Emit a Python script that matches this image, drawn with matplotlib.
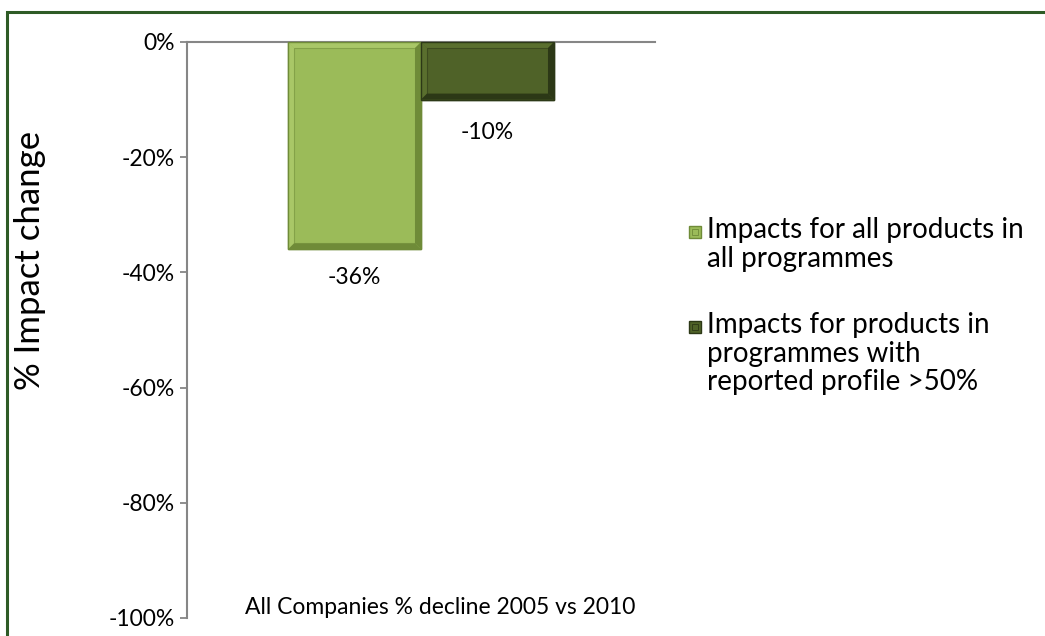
import matplotlib
matplotlib.use("Agg")
import matplotlib.pyplot as plt
from matplotlib.patches import Rectangle, Polygon
from matplotlib.transforms import IdentityTransform, ScaledTranslation
from matplotlib.ticker import FuncFormatter

plt.rcParams['font.family'] = ['Lato', 'DejaVu Sans']

# ── data ─────────────────────────────────────────────
category = "All Companies % decline 2005 vs 2010"
series_names = ["Impacts for all products in\nall programmes",
                "Impacts for products in\nprogrammes with\nreported profile >50%"]
values = [-36, -10]
y_ticks = [0, -20, -40, -60, -80, -100]

# (base, light bevel, dark bevel)
colors = [("#9BBB59", "#A9C767", "#6F8B38"),
          ("#4F6228", "#5A6F2E", "#2C3816")]

W, H = 1045, 636
fig = plt.figure(figsize=(W / 100, H / 100), dpi=100)
ax = fig.add_axes([187 / W, 18 / H, (655 - 187) / W, (618 - 42) / H])

bw = 133 / 468
offsets = [-bw / 2, bw / 2]
bars = []
for v, off, c in zip(values, offsets, colors):
    b = ax.bar(off, v, width=bw, color=c[0], edgecolor=c[2], linewidth=1.0, zorder=2)
    bars.append(b[0])

ax.set_xlim(-0.5, 0.5)
ax.set_ylim(-100, 0)
ax.set_yticks(y_ticks)
ax.yaxis.set_major_formatter(FuncFormatter(lambda v, _: f"{int(v)}%"))
ax.set_xticks([])
ax.tick_params(axis='y', length=5, width=1.3, color='#868686', pad=4,
               labelsize=16.5)
for s in ['right', 'bottom']:
    ax.spines[s].set_visible(False)
for s in ['left', 'top']:
    ax.spines[s].set_color('#868686')
    ax.spines[s].set_linewidth(1.5)
ax.spines['top'].set_zorder(3)
ax.set_ylabel("% Impact change", fontsize=25)
ax.yaxis.set_label_coords((46 - 187) / 468, (618 - 260) / 576)

# data labels below each bar
for b, v, dy in zip(bars, values, [-20, -24]):
    ax.annotate(f"{v}%", (b.get_x() + b.get_width() / 2, v),
                xytext=(0, dy), textcoords='offset points',
                ha='center', va='center', fontsize=16.5)

# category label
ax.text(0, -100, category, ha='center', va='center', fontsize=16.5,
        transform=ax.transData + ScaledTranslation(19 / 100, 10 / 100, fig.dpi_scale_trans))


def bevel(x0, y0, x1, y1, c, d=6):
    # display coords (origin bottom-left)
    base, light, dark = c
    pts_top = [(x0, y1), (x1, y1), (x1 - d, y1 - d), (x0 + d, y1 - d)]
    pts_left = [(x0, y0), (x0, y1), (x0 + d, y1 - d), (x0 + d, y0 + d)]
    pts_bot = [(x0, y0), (x1, y0), (x1 - d, y0 + d), (x0 + d, y0 + d)]
    pts_right = [(x1, y0), (x1, y1), (x1 - d, y1 - d), (x1 - d, y0 + d)]
    for pts, col in [(pts_top, light), (pts_left, light), (pts_bot, dark), (pts_right, dark)]:
        fig.patches.append(Polygon(pts, closed=True, facecolor=col, edgecolor='none',
                                   transform=IdentityTransform(), zorder=3))
    fig.patches.append(Rectangle((x0 + d, y0 + d), x1 - x0 - 2 * d, y1 - y0 - 2 * d,
                                 facecolor='none', edgecolor=dark, linewidth=0.8,
                                 alpha=0.5, transform=IdentityTransform(), zorder=3))
    fig.patches.append(Rectangle((x0, y0), x1 - x0, y1 - y0,
                                 facecolor='none', edgecolor=dark, linewidth=1.0,
                                 transform=IdentityTransform(), zorder=3))


for b, c in zip(bars, colors):
    ext = b.get_window_extent()
    bevel(ext.x0, ext.y0, ext.x1, ext.y1, c)

# legend, drawn by hand so the swatch sits on the first line
leg_y = [232, 327]
for name, c, yy in zip(series_names, colors, leg_y):
    x0, y0 = 689, H - yy - 6
    fig.patches.append(Rectangle((x0, y0), 12, 12, facecolor=c[0], edgecolor=c[2],
                                 linewidth=1.0, transform=IdentityTransform(), zorder=4))
    fig.patches.append(Rectangle((x0 + 3, y0 + 3), 6, 6, facecolor='none', edgecolor=c[2],
                                 linewidth=0.6, transform=IdentityTransform(), zorder=4))
    fig.text(707 / W, 1 - (yy - 15) / H, name, fontsize=20, ha='left', va='top',
             linespacing=1.13)

# outer chart border (top and left visible)
fig.patches.append(Rectangle((7 / W, -0.05), 1.1, 1 - 12 / H + 0.05, fill=False,
                             edgecolor='#2E5B26', linewidth=2.2,
                             transform=fig.transFigure, zorder=5))

fig.savefig("out.png", dpi=100)
